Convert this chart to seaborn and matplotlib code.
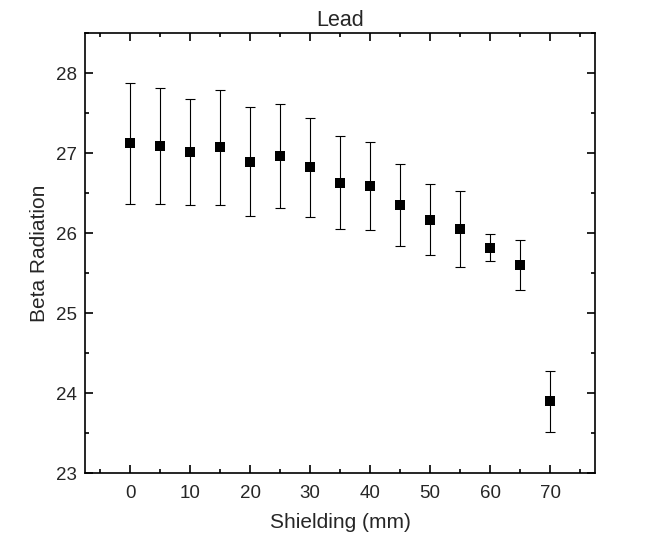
import matplotlib
matplotlib.use("Agg")
import matplotlib.pyplot as plt
import seaborn as sns
import pandas as pd
from matplotlib.ticker import MultipleLocator

shielding = [0, 5, 10, 15, 20, 25, 30, 35, 40, 45, 50, 55, 60, 65, 70]
beta = [27.12, 27.09, 27.01, 27.07, 26.89, 26.96, 26.82, 26.63, 26.59, 26.35, 26.17, 26.05, 25.82, 25.60, 23.90]
err = [0.75, 0.72, 0.66, 0.72, 0.68, 0.65, 0.62, 0.58, 0.55, 0.51, 0.44, 0.47, 0.17, 0.31, 0.38]

df = pd.DataFrame({"Shielding (mm)": shielding, "Beta Radiation": beta, "err": err})

sns.set_style("white")
plt.rcParams['font.family'] = ['Liberation Sans', 'DejaVu Sans']

fig = plt.figure(figsize=(6.49, 5.42), dpi=100)
ax = fig.add_axes([0.131, 0.127, 0.786, 0.812])

ax.errorbar(df["Shielding (mm)"], df["Beta Radiation"], yerr=df["err"], fmt='none',
            ecolor='black', elinewidth=0.8, capsize=3.5, capthick=0.8, zorder=2)
sns.scatterplot(data=df, x="Shielding (mm)", y="Beta Radiation", marker='s', s=46,
                color='black', edgecolor='black', linewidth=0, ax=ax, zorder=3)

ax.set_xlim(-7.5, 77.5)
ax.set_ylim(23, 28.5)
ax.xaxis.set_major_locator(MultipleLocator(10))
ax.xaxis.set_minor_locator(MultipleLocator(5))
ax.yaxis.set_major_locator(MultipleLocator(1))
ax.yaxis.set_minor_locator(MultipleLocator(0.5))
ax.tick_params(which='both', direction='in', top=True, right=True, bottom=True, left=True,
               color='black', width=1.2)
ax.tick_params(which='major', length=6, labelsize=13.5)
ax.tick_params(axis='x', which='major', pad=8.5)
ax.tick_params(axis='y', which='major', pad=6)
ax.tick_params(which='minor', length=3)
for s in ax.spines.values():
    s.set_color('black')
    s.set_linewidth(1.2)

ax.set_xlabel("Shielding (mm)", fontsize=15, labelpad=8)
ax.set_ylabel("Beta Radiation", fontsize=15, labelpad=5)
ax.set_title("Lead", fontsize=15.5, pad=5)

fig.savefig("out.png", dpi=100)
